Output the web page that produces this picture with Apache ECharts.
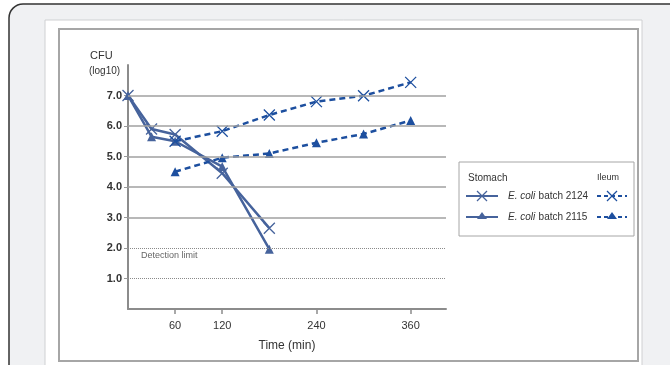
<!DOCTYPE html>
<html><head><meta charset="utf-8">
<script src="https://cdn.jsdelivr.net/npm/echarts@6/dist/echarts.min.js"></script>
<style>html,body{margin:0;padding:0;background:#fff}#c{width:670px;height:365px}</style>
</head><body><div id="c"></div>
<script>
// ---- data ----
var stomach2124_t = [0, 30, 60, 120, 180];
var stomach2124_v = [7.0, 5.9, 5.72, 4.45, 2.65];
var stomach2115_t = [0, 30, 60, 120, 180];
var stomach2115_v = [7.0, 5.65, 5.5, 4.67, 1.96];
var ileum2124_t = [60, 120, 180, 240, 300, 360];
var ileum2124_v = [5.5, 5.83, 6.36, 6.8, 6.99, 7.43];
var ileum2115_t = [60, 120, 180, 240, 300, 360];
var ileum2115_v = [4.5, 4.96, 5.1, 5.45, 5.74, 6.18];
var xTicks = [60, 120, 240, 360];
var solidGrid = [3, 4, 5, 6, 7];
var dottedGrid = [1, 2];
var yLabels = [1, 2, 3, 4, 5, 6, 7];

function pairs(t, v) { return t.map(function (x, i) { return [x, v[i]]; }); }

var stomachColor = '#46639c';
var ileumColor = '#1d4f9f';
var xSym = 'path://M0,0L10,10M10,0L0,10';

function xMark(cx, cy, color) {
  return [
    { type: 'line', shape: { x1: cx - 5, y1: cy - 5, x2: cx + 5, y2: cy + 5 }, style: { stroke: color, lineWidth: 1.3 } },
    { type: 'line', shape: { x1: cx + 5, y1: cy - 5, x2: cx - 5, y2: cy + 5 }, style: { stroke: color, lineWidth: 1.3 } }
  ];
}
var richStyle = { i: { fontStyle: 'italic', fontSize: 10, fill: '#333', fontFamily: 'Liberation Sans' }, n: { fontSize: 10, fill: '#333', fontFamily: 'Liberation Sans' } };

var chart = echarts.init(document.getElementById('c'));
chart.setOption({
  animation: false,
  backgroundColor: '#fff',
  grid: { left: 128, right: 224, top: 65, bottom: 56 },
  xAxis: {
    type: 'value', min: 0, max: 405,
    axisLine: { lineStyle: { color: '#8c8c8c', width: 2 } },
    axisTick: { show: true, customValues: xTicks, length: 5, lineStyle: { color: '#8c8c8c', width: 1.5 } },
    axisLabel: { customValues: xTicks, color: '#333', fontSize: 11, margin: 11, fontFamily: 'Liberation Sans' },
    splitLine: { show: false },
    name: 'Time (min)', nameLocation: 'middle', nameGap: 31,
    nameTextStyle: { color: '#333', fontSize: 12, fontFamily: 'Liberation Sans' }
  },
  yAxis: {
    type: 'value', min: 0, max: 8, interval: 1,
    axisLine: { show: true, lineStyle: { color: '#8c8c8c', width: 2 } },
    axisTick: { show: true, customValues: yLabels, length: 4, lineStyle: { color: '#999' } },
    axisLabel: { customValues: yLabels, color: '#333', fontSize: 11, fontWeight: 'bold', margin: 6, fontFamily: 'Liberation Sans',
      formatter: function (v) { return v.toFixed(1); } },
    splitLine: { show: false }
  },
  graphic: [
    { type: 'rect', z: -10, shape: { x: 9, y: 4, width: 700, height: 400, r: 14 }, style: { fill: '#f0f1f3', stroke: '#333', lineWidth: 1.5 } },
    { type: 'rect', z: -9, shape: { x: 45, y: 20, width: 597, height: 360 }, style: { fill: '#fff', stroke: '#cfd0d2', lineWidth: 1 } },
    { type: 'rect', z: -8, shape: { x: 59, y: 29, width: 579, height: 332 }, style: { fill: '#fff', stroke: '#a6a6a6', lineWidth: 2 } },
    { type: 'text', style: { x: 90, y: 50, text: 'CFU', fill: '#333', fontSize: 11, fontFamily: 'Liberation Sans' } },
    { type: 'text', style: { x: 89, y: 66, text: '(log10)', fill: '#333', fontSize: 10, fontFamily: 'Liberation Sans' } },
    { type: 'text', style: { x: 141, y: 251, text: 'Detection limit', fill: '#666', fontSize: 9, fontFamily: 'Liberation Sans' } },
    { type: 'rect', shape: { x: 459, y: 162, width: 175, height: 74 }, style: { fill: '#fff', stroke: '#a6a6a6', lineWidth: 1 } },
    { type: 'text', style: { x: 468, y: 173, text: 'Stomach', fill: '#333', fontSize: 10, fontFamily: 'Liberation Sans' } },
    { type: 'text', style: { x: 597, y: 173, text: 'Ileum', fill: '#333', fontSize: 9, fontFamily: 'Liberation Sans' } },
    { type: 'line', shape: { x1: 466, y1: 196, x2: 498, y2: 196 }, style: { stroke: stomachColor, lineWidth: 2 } },
    { type: 'line', shape: { x1: 466, y1: 217, x2: 498, y2: 217 }, style: { stroke: stomachColor, lineWidth: 2 } },
    { type: 'polygon', shape: { points: [[482, 212], [487, 219], [477, 219]] }, style: { fill: stomachColor } },
    { type: 'text', style: { x: 508, y: 190, rich: richStyle, text: '{i|E. coli} {n|batch 2124}' } },
    { type: 'text', style: { x: 508, y: 211, rich: richStyle, text: '{i|E. coli} {n|batch 2115}' } },
    { type: 'line', shape: { x1: 597, y1: 196, x2: 627, y2: 196 }, style: { stroke: ileumColor, lineWidth: 2, lineDash: [4, 3] } },
    { type: 'line', shape: { x1: 597, y1: 217, x2: 627, y2: 217 }, style: { stroke: ileumColor, lineWidth: 2, lineDash: [4, 3] } },
    { type: 'polygon', shape: { points: [[612, 212], [617, 219], [607, 219]] }, style: { fill: ileumColor } }
  ].concat(xMark(482, 196, stomachColor)).concat(xMark(612, 196, ileumColor)),
  series: [
    {
      type: 'line', data: [], silent: true,
      markLine: {
        silent: true, symbol: 'none', label: { show: false },
        data: solidGrid.map(function (v) { return { yAxis: v, lineStyle: { type: 'solid', color: '#a0a0a0', width: 1.5 } }; })
          .concat(dottedGrid.map(function (v) { return { yAxis: v, lineStyle: { type: 'dotted', color: '#8a8a8a', width: 1 } }; }))
      }
    },
    { name: 'Stomach 2124', type: 'line', data: pairs(stomach2124_t, stomach2124_v), symbol: xSym, symbolSize: 11,
      lineStyle: { color: stomachColor, width: 2.5 }, itemStyle: { color: 'rgba(0,0,0,0)', borderColor: stomachColor, borderWidth: 1.3 }, z: 3 },
    { name: 'Stomach 2115', type: 'line', data: pairs(stomach2115_t, stomach2115_v), symbol: 'triangle', symbolSize: 9,
      lineStyle: { color: stomachColor, width: 2.5 }, itemStyle: { color: stomachColor }, z: 3 },
    { name: 'Ileum 2124', type: 'line', data: pairs(ileum2124_t, ileum2124_v), symbol: xSym, symbolSize: 11,
      lineStyle: { color: ileumColor, width: 2.5, type: [6, 4] }, itemStyle: { color: 'rgba(0,0,0,0)', borderColor: ileumColor, borderWidth: 1.3 }, z: 4 },
    { name: 'Ileum 2115', type: 'line', data: pairs(ileum2115_t, ileum2115_v), symbol: 'triangle', symbolSize: 9,
      lineStyle: { color: ileumColor, width: 2.5, type: [6, 4] }, itemStyle: { color: ileumColor }, z: 4 }
  ]
});
</script></body></html>
